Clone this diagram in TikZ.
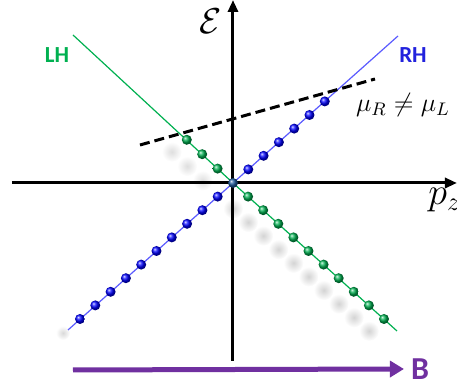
\RequirePackage{fix-cm}
\documentclass[tikz,border=0pt]{standalone}
\usepackage{fontspec}
\setsansfont{Carlito}
\usetikzlibrary{arrows.meta}
\definecolor{leafgreen}{HTML}{00B050}
\definecolor{royalblue}{HTML}{2222DD}
\definecolor{lineblue}{HTML}{5A5AFF}
\definecolor{fieldpurple}{HTML}{7030A0}
\definecolor{nodeteal}{HTML}{1F5C9E}

\begin{document}
\begin{tikzpicture}[x=0.5pt,y=0.5pt]
\useasboundingbox (-233,-206) rectangle (224,183);
\coordinate (O) at (0,0);
\foreach \k in {1,...,10} \shade[inner color=black!17, outer color=white] (\k*15.1-15,-\k*13.6-12) circle (10);
\foreach \k in {1,2,3} \shade[inner color=black!13, outer color=white] (-\k*15.4-15,\k*14.4-12) circle (10);
\shade[inner color=black!15, outer color=white] (-170,-150) circle (7);
\draw[leafgreen, line width=0.6pt] (-160,148) -- (O) -- (164,-148);
\draw[lineblue, line width=0.6pt] (-165,-147) -- (165,147);
\draw[line width=1.5pt, -{Triangle[length=6pt,width=5pt]}] (0,-178) -- (0,183);
\draw[line width=1.5pt, -{Triangle[length=6pt,width=5pt]}] (-221,0) -- (224,0);
\draw[line width=1.5pt, dash pattern=on 5pt off 2.5pt] (-93,38) -- (142,104);
\foreach \k in {1,...,6} \shade[ball color=blue] (\k*15.3,\k*13.6) circle (5);
\foreach \k in {1,...,10} \shade[ball color=blue] (-\k*15.3,-\k*13.6) circle (5);
\foreach \k in {1,...,10} \shade[ball color=leafgreen] (\k*15.1,-\k*13.6) circle (5);
\foreach \k in {1,2,3} \shade[ball color=leafgreen] (-\k*15.4,\k*14.4) circle (5);
\shade[ball color=nodeteal] (O) circle (5);
\node[text=leafgreen, font=\sffamily\bfseries\fontsize{11.5}{13}\selectfont] (lh) at (-176,128) {LH};
\node[text=royalblue, font=\sffamily\bfseries\fontsize{11.5}{13}\selectfont] (rh) at (180,128) {RH};
\node[inner sep=0pt, font=\fontsize{18}{18}\selectfont] (energy) at (-22,162) {$\mathcal{E}$};
\node[anchor=base west, inner sep=0pt, font=\fontsize{19}{19}\selectfont] (pz) at (195,-22) {$p_z$};
\node[font=\fontsize{13}{13}\selectfont] (mu) at (170,78) {$\mu_R\neq\mu_L$};
\node[text=fieldpurple, font=\sffamily\bfseries\fontsize{16}{18}\selectfont] (bfield) at (187,-186) {B};
\draw[fieldpurple, line width=2.5pt, -{Triangle[length=7pt,width=8pt]}] (-160,-187) -- (bfield.west);
\end{tikzpicture}
\end{document}
